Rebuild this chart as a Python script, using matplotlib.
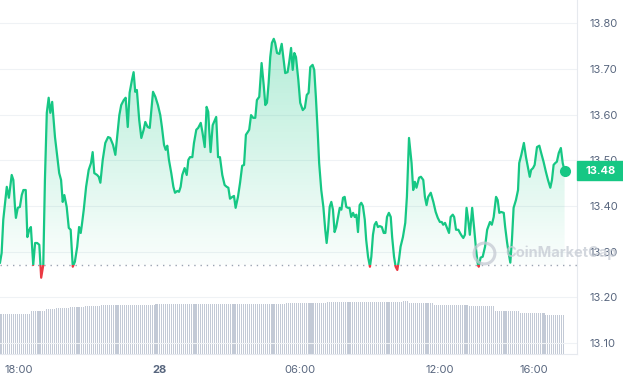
import numpy as np
import matplotlib
matplotlib.use("Agg")
import matplotlib.pyplot as plt
from matplotlib.patches import Rectangle, PathPatch
from matplotlib.path import Path
from matplotlib.colors import LinearSegmentedColormap
import matplotlib.transforms as mtransforms

plt.rcParams['font.family'] = ['Inter', 'DejaVu Sans']

# time in hours since 00:00 of the 27th, price in USD
hours = [17.19, 17.26, 17.33, 17.48, 17.57, 17.69, 17.76, 17.83, 17.87, 17.95,
         18.04, 18.12, 18.19, 18.29, 18.36, 18.44, 18.51, 18.61, 18.69, 18.78,
         18.87, 18.95, 19.04, 19.11, 19.19, 19.27, 19.34, 19.42, 19.54, 19.64,
         19.72, 19.80, 19.87, 19.94, 20.04, 20.13, 20.21, 20.30, 20.39, 20.49,
         20.57, 20.64, 20.69,
         20.77, 20.87, 20.98, 21.08, 21.15, 21.22, 21.34, 21.41, 21.48, 21.58,
         21.69, 21.81, 21.90, 22.02, 22.12, 22.22, 22.29, 22.37, 22.48, 22.56,
         22.65, 22.73, 22.83, 22.90, 22.97, 23.04, 23.14, 23.23, 23.33, 23.40,
         23.50, 23.59, 23.66, 23.73, 23.83, 23.94, 24.04, 24.11, 24.20,
         24.27, 24.34, 24.41, 24.51, 24.60, 24.67, 24.77, 24.84, 24.91, 24.98,
         25.08, 25.17, 25.24, 25.31, 25.41, 25.48, 25.58, 25.66, 25.77, 25.84,
         25.94, 26.02, 26.09, 26.13, 26.19, 26.28, 26.37, 26.43, 26.51, 26.59,
         26.69, 26.79, 26.88, 26.95, 27.02, 27.12, 27.19, 27.26, 27.36, 27.45,
         27.54, 27.62, 27.70,
         27.78, 27.84, 27.92, 28.01, 28.10, 28.17, 28.27, 28.37, 28.46, 28.53,
         28.60, 28.67, 28.74, 28.81, 28.89, 28.95, 29.03, 29.13, 29.23, 29.30,
         29.38, 29.48, 29.55, 29.63, 29.70, 29.77, 29.84, 29.94, 30.02, 30.13,
         30.22, 30.30, 30.38, 30.45, 30.55, 30.62, 30.69, 30.77, 30.83, 30.92,
         31.01, 31.09, 31.15,
         31.21, 31.28, 31.35, 31.42, 31.49, 31.56, 31.63, 31.71, 31.78, 31.85,
         31.92, 31.99, 32.06, 32.13, 32.20, 32.28, 32.35, 32.42, 32.49, 32.56,
         32.63, 32.70, 32.78, 32.84, 32.92, 33.00, 33.06, 33.13, 33.20, 33.27,
         33.34, 33.42, 33.51, 33.59, 33.66, 33.73, 33.81, 33.89, 33.95, 34.03,
         34.10, 34.17, 34.24, 34.31, 34.41, 34.51, 34.58, 34.67,
         34.78, 34.85, 34.92, 34.99, 35.10, 35.18, 35.28, 35.35, 35.42, 35.49,
         35.60, 35.71, 35.81, 35.90, 35.99, 36.07, 36.13, 36.21, 36.28, 36.38,
         36.45, 36.54, 36.60, 36.68, 36.78, 36.85, 36.92, 36.99, 37.06, 37.13,
         37.20, 37.27, 37.37, 37.46, 37.53, 37.60, 37.65, 37.73, 37.82, 37.92,
         38.01, 38.13, 38.21,
         38.29, 38.39, 38.46, 38.53, 38.61, 38.72, 38.78, 38.86, 38.93, 39.00,
         39.07, 39.14, 39.24, 39.33, 39.38, 39.47, 39.58, 39.67, 39.75, 39.83,
         39.89, 39.97, 40.04, 40.14, 40.24, 40.32, 40.42, 40.52, 40.61, 40.71,
         40.78, 40.85, 40.92, 40.99, 41.07, 41.16, 41.24, 41.32]

prices = [13.276, 13.297, 13.370, 13.442, 13.418, 13.468, 13.457, 13.398, 13.374, 13.396,
          13.398, 13.424, 13.435, 13.435, 13.332, 13.348, 13.354, 13.271, 13.319, 13.319,
          13.315, 13.243, 13.271, 13.457, 13.604, 13.637, 13.604, 13.628, 13.551, 13.507,
          13.472, 13.457, 13.409, 13.424, 13.398, 13.352, 13.348, 13.267, 13.278, 13.311,
          13.354, 13.341, 13.359,
          13.392, 13.442, 13.479, 13.494, 13.518, 13.472, 13.468, 13.464, 13.451, 13.501,
          13.538, 13.551, 13.549, 13.534, 13.512, 13.562, 13.599, 13.621, 13.632, 13.637,
          13.573, 13.648, 13.676, 13.693, 13.650, 13.654, 13.588, 13.549, 13.567, 13.584,
          13.573, 13.571, 13.610, 13.650, 13.639, 13.621, 13.599, 13.573, 13.534,
          13.523, 13.532, 13.501, 13.472, 13.442, 13.429, 13.433, 13.431, 13.442, 13.468,
          13.483, 13.468, 13.501, 13.507, 13.507, 13.538, 13.567, 13.571, 13.582, 13.562,
          13.529, 13.617, 13.606, 13.567, 13.518, 13.577, 13.588, 13.595, 13.507, 13.507,
          13.468, 13.446, 13.442, 13.440, 13.416, 13.420, 13.422, 13.396, 13.420, 13.451,
          13.488, 13.490, 13.556,
          13.562, 13.567, 13.599, 13.593, 13.593, 13.632, 13.639, 13.713, 13.665, 13.621,
          13.626, 13.669, 13.726, 13.757, 13.766, 13.757, 13.735, 13.733, 13.755, 13.726,
          13.691, 13.693, 13.715, 13.746, 13.698, 13.735, 13.726, 13.676, 13.626, 13.610,
          13.615, 13.643, 13.648, 13.704, 13.709, 13.698, 13.639, 13.560, 13.494, 13.435,
          13.398, 13.348, 13.319,
          13.348, 13.398, 13.409, 13.392, 13.343, 13.354, 13.374, 13.396, 13.392, 13.418,
          13.420, 13.398, 13.396, 13.396, 13.376, 13.385, 13.376, 13.381, 13.343, 13.402,
          13.407, 13.400, 13.370, 13.326, 13.289, 13.267, 13.289, 13.337, 13.359, 13.365,
          13.354, 13.356, 13.354, 13.341, 13.341, 13.376, 13.385, 13.376, 13.332, 13.289,
          13.267, 13.260, 13.282, 13.311, 13.332, 13.363, 13.420, 13.549,
          13.494, 13.435, 13.453, 13.440, 13.462, 13.464, 13.457, 13.420, 13.402, 13.420,
          13.429, 13.409, 13.387, 13.374, 13.365, 13.365, 13.359, 13.363, 13.354, 13.341,
          13.376, 13.381, 13.376, 13.348, 13.348, 13.341, 13.335, 13.330, 13.337, 13.396,
          13.370, 13.337, 13.396, 13.348, 13.308, 13.276, 13.267, 13.287, 13.289, 13.311,
          13.348, 13.365, 13.359,
          13.376, 13.420, 13.413, 13.385, 13.387, 13.385, 13.354, 13.321, 13.297, 13.276,
          13.326, 13.396, 13.413, 13.435, 13.494, 13.512, 13.538, 13.507, 13.486, 13.464,
          13.479, 13.483, 13.490, 13.529, 13.532, 13.516, 13.497, 13.475, 13.457, 13.440,
          13.457, 13.490, 13.494, 13.497, 13.516, 13.527, 13.494, 13.477]

open_price = 13.27

# 24h volume (millions USD), step values starting at each hour mark
vol_hours = [17.19, 18.47, 19.11, 19.54, 20.18, 20.82, 21.46, 23.81, 29.37, 31.12,
             34.41, 34.63, 35.69, 37.27, 37.92, 38.34, 39.41, 40.48]
vol_values = [395, 425, 445, 455, 465, 475, 485, 495, 505, 515,
              525, 500, 485, 478, 470, 428, 408, 386]

tick_hours = [18, 24, 30, 36, 40]
tick_labels = ["18:00", "28", "06:00", "12:00", "16:00"]
price_ticks = [13.10, 13.20, 13.30, 13.40, 13.50, 13.60, 13.70, 13.80]

green = "#16c784"
red = "#ea3943"
gray_txt = "#58667e"

h = np.array(hours)
p = np.array(prices)

fig = plt.figure(figsize=(6.23, 3.80), dpi=100)
ax = fig.add_axes([0, 26 / 380, 577 / 623, 354 / 380])
ax.set_xlim(17.19, 41.85)
ax.set_ylim(13.076, 13.851)

# volume bars on their own scale
axv = ax.twinx()
axv.set_ylim(0, 3500)
bar_t = np.arange(hours[0], hours[-1] + 0.01, 5 / 60)
idx = np.searchsorted(vol_hours, bar_t, side="right") - 1
axv.bar(bar_t, np.array(vol_values)[idx], width=0.045, color="#c3cad6", linewidth=0)
axv.set_yticks([])
axv.set_zorder(0)
ax.set_zorder(1)
ax.patch.set_visible(False)
for s in axv.spines.values():
    s.set_visible(False)

# gradient fill above opening price
top = p.max()
cmap = LinearSegmentedColormap.from_list("g", [(0.086, 0.78, 0.52, 0.02), (0.086, 0.78, 0.52, 0.32)])
grad = np.linspace(0, 1, 256).reshape(-1, 1)
im = ax.imshow(grad, extent=[h[0], h[-1], open_price, top], origin="lower",
               aspect="auto", cmap=cmap, zorder=1)
verts = [(h[0], open_price)] + list(zip(h, np.maximum(p, open_price))) + [(h[-1], open_price), (h[0], open_price)]
clip = PathPatch(Path(verts), transform=ax.transData, facecolor="none", edgecolor="none")
ax.add_patch(clip)
im.set_clip_path(clip)

# line, green above / red below the opening price
up, = ax.plot(h, p, color=green, lw=1.6, solid_joinstyle="round", zorder=3)
dn, = ax.plot(h, p, color=red, lw=1.6, solid_joinstyle="round", zorder=3)
up.set_clip_path(Rectangle((10, open_price), 40, 2, transform=ax.transData))
dn.set_clip_path(Rectangle((10, open_price - 2), 40, 2, transform=ax.transData))

ax.axhline(open_price, color="#9aa3b2", lw=1, linestyle=(0, (1, 3.5)), zorder=2)
ax.plot(h[-1], p[-1], "o", color=green, markersize=7, zorder=4)

ax.set_yticks(price_ticks)
ax.set_yticklabels(["%.2f" % v for v in price_ticks])
ax.yaxis.tick_right()
ax.set_xticks(tick_hours)
ax.set_xticklabels(tick_labels)
ax.tick_params(axis="both", length=0, labelsize=8, labelcolor=gray_txt)
ax.tick_params(axis="y", pad=9)
ax.tick_params(axis="x", pad=8)
ax.get_xticklabels()[1].set_fontweight("bold")
ax.grid(axis="y", color="#eff2f5", lw=0.8)
ax.set_axisbelow(True)
for side in ["top", "left"]:
    ax.spines[side].set_visible(False)
for side in ["right", "bottom"]:
    ax.spines[side].set_color("#e6e9ee")
    ax.spines[side].set_linewidth(0.8)

# current price tag
tr = mtransforms.blended_transform_factory(ax.transAxes, ax.transData)
ax.add_patch(Rectangle((1.0, p[-1] - 0.0208), 46 / 577, 0.0416, transform=tr,
                       color=green, clip_on=False, zorder=5))
ax.text(586 / 577, p[-1], "%.2f" % p[-1], transform=tr, color="white",
        fontsize=8, fontweight="bold", va="center", ha="left", zorder=6, clip_on=False)

# watermark
ax.plot(484 / 577, 0.285, "o", markersize=15, fillstyle="none", markeredgewidth=2.2,
        color="#c5cad3", alpha=0.75, transform=ax.transAxes, clip_on=False, zorder=6)
ax.text(505 / 577, 0.285, "CoinMarketCap", transform=ax.transAxes, color="#c5cad3",
        alpha=0.75, fontsize=10.5, fontweight="bold", va="center", ha="left",
        zorder=6, clip_on=False)

plt.savefig("out.png", dpi=100)
